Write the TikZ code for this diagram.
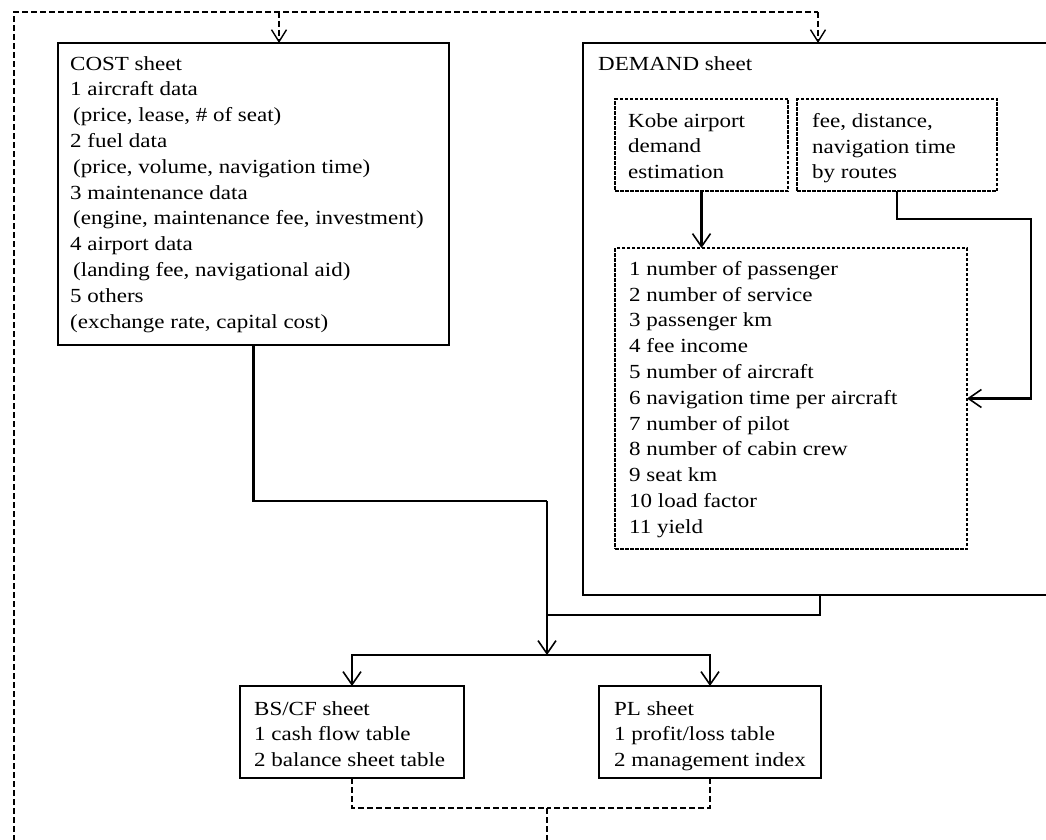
\documentclass[tikz,border=0pt]{standalone}
\usepackage{fontspec}
\setmainfont[FakeStretch=1.15]{Liberation Serif}
\usetikzlibrary{arrows.meta}
\tikzset{
  box/.style={draw, line width=1.5pt, rectangle, anchor=north west, inner sep=0pt, outer sep=0pt},
  dbox/.style={draw, line width=1.2pt, dash pattern=on 3.5pt off 1.5pt, rectangle, anchor=north west, inner sep=0pt, outer sep=0pt},
  txt/.style={anchor=north west, align=left, inner sep=0pt, font=\fontsize{20}{25.8}\selectfont},
  conn/.style={line width=2.2pt},
  dline/.style={line width=1.4pt, dash pattern=on 6pt off 3pt},
  tip/.style={-{Straight Barb[length=13pt,width=18pt,line width=1.6pt]}},
  dtip/.style={-{Straight Barb[length=12pt,width=15pt,line width=1.4pt]}},
}
\begin{document}
\begin{tikzpicture}[x=1pt,y=-1pt]
\useasboundingbox (0,0) rectangle (1046,840);
\begin{scope}
\clip (0,0) rectangle (1046,840);
% boxes
\node[box, minimum width=391pt, minimum height=302pt] (cost) at (58,43) {};
\node[box, minimum width=480pt, minimum height=552pt] (demand) at (583,43) {};
\node[dbox, minimum width=173pt, minimum height=92pt] (kobe) at (615,99) {};
\node[dbox, minimum width=200pt, minimum height=92pt] (fee) at (797,99) {};
\node[dbox, minimum width=352pt, minimum height=301pt] (list) at (615,248) {};
\node[box, minimum width=224pt, minimum height=92pt] (bscf) at (240,686) {};
\node[box, minimum width=222pt, minimum height=92pt] (pl) at (599,686) {};
% texts
\node[txt] (costT) at (70,56) {COST sheet\\1 aircraft data\\\hspace{3pt}(price, lease, \# of seat)\\2 fuel data\\\hspace{3pt}(price, volume, navigation time)\\3 maintenance data\\\hspace{3pt}(engine, maintenance fee, investment)\\4 airport data\\\hspace{3pt}(landing fee, navigational aid)\\5 others\\(exchange rate, capital cost)};
\node[txt] (demandT) at (598,56) {DEMAND sheet};
\node[txt] (kobeT) at (628,113) {Kobe airport\\demand\\estimation};
\node[txt] (feeT) at (812,113) {fee, distance,\\navigation time\\by routes};
\node[txt] (listT) at (629,261) {1 number of passenger\\2 number of service\\3 passenger km\\4 fee income\\5 number of aircraft\\6 navigation time per aircraft\\7 number of pilot\\8 number of cabin crew\\9 seat km\\10 load factor\\11 yield};
\node[txt] (bscfT) at (254,701) {BS/CF sheet\\1 cash flow table\\2 balance sheet table};
\node[txt] (plT) at (614,701) {PL sheet\\1 profit/loss table\\2 management index};
% coordinates
\coordinate (loopL) at (14,850);
\coordinate (loopC) at (279,12);
\coordinate (loopR) at (818,12);
\coordinate (m1) at (547,501);
\coordinate (m2) at (547,615);
\coordinate (dOut) at (820,595);
\coordinate (split) at (547,655);
\coordinate (c1) at (1031,219);
\coordinate (dj) at (547,808);
\coordinate (dEnd) at (547,850);
% solid connectors
\draw[conn] (cost.south) |- (m1);
\draw[conn] (dOut) |- (m2);
\draw[conn,tip] (m1) -- (split);
\draw[conn,tip] (split) -| (bscf.north);
\draw[conn,tip] (split) -| (pl.north);
\draw[conn,tip] (kobe.south) -- (kobe.south |- list.north);
\draw[conn,tip] (fee.south) |- (c1) |- (list.east);
% dashed feedback loop
\draw[dline] (bscf.south) |- (dj);
\draw[dline] (pl.south) |- (dj);
\draw[dline] (dj) -- (dEnd);
\draw[dline] (loopL) |- (loopR);
\draw[dline,dtip] (loopC) -- (loopC |- cost.north);
\draw[dline,dtip] (loopR) -- (loopR |- demand.north);
\end{scope}
\end{tikzpicture}
\end{document}
